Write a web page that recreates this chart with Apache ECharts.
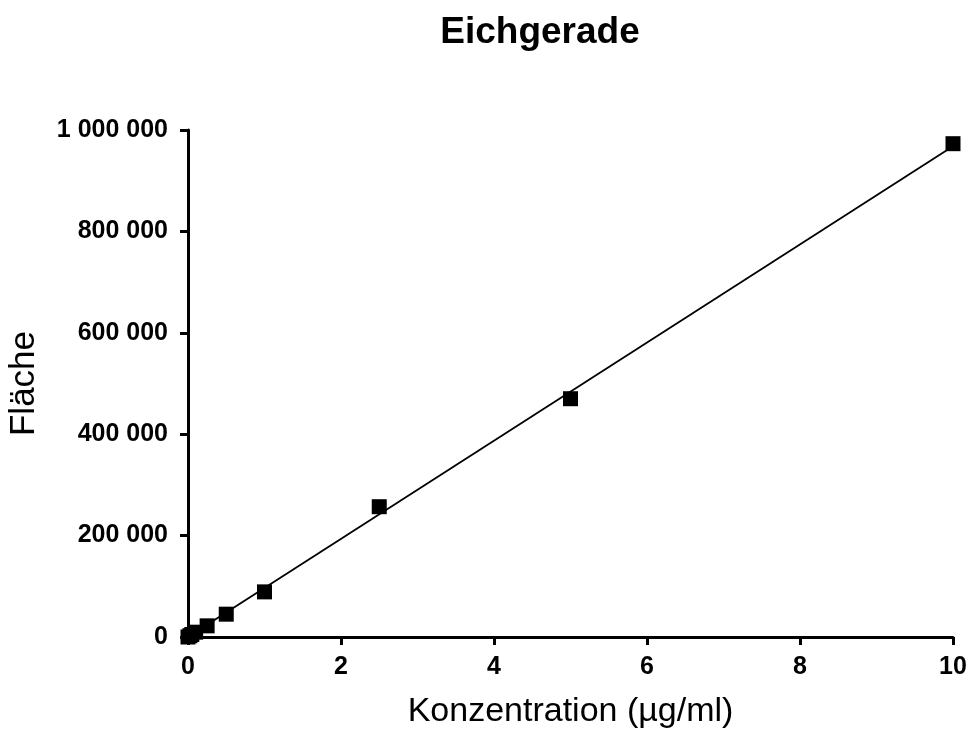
<!DOCTYPE html>
<html><head><meta charset="utf-8">
<script src="https://cdn.jsdelivr.net/npm/echarts@6/dist/echarts.min.js"></script>
<style>html,body{margin:0;padding:0;background:#fff}#c{width:969px;height:730px}</style>
</head><body><div id="c"></div>
<script>
const concentrations = [0, 0.025, 0.05, 0.1, 0.25, 0.5, 1, 2.5, 5, 10];
const areas = [0, 2500, 5000, 9500, 22000, 45000, 89000, 257000, 470000, 973000];
const fitX = [0, 10];
const fitY = [0, 968000];
const xTicks = [0, 2, 4, 6, 8, 10];
const yTicks = [0, 200000, 400000, 600000, 800000, 1000000];

const fmt = v => String(Math.round(v)).replace(/\B(?=(\d{3})+(?!\d))/g, ' ');
const font = 'Liberation Sans, Arial, sans-serif';
const chart = echarts.init(document.getElementById('c'));
chart.setOption({
  animation: false,
  backgroundColor: '#fff',
  title: {
    text: 'Eichgerade', left: 535, top: 9, textAlign: 'center',
    textStyle: {fontFamily: font, fontSize: 37, fontWeight: 'bold', color: '#000'}
  },
  grid: {left: 188, right: 16, top: 130, bottom: 93, containLabel: false, outerBoundsMode: 'none'},
  xAxis: {
    type: 'value', min: xTicks[0], max: xTicks[xTicks.length - 1], interval: 2,
    name: 'Konzentration (µg/ml)', nameLocation: 'middle', nameGap: 58,
    nameTextStyle: {fontFamily: font, fontSize: 34, color: '#000'},
    axisLine: {show: true, onZero: false, lineStyle: {color: '#000', width: 3}},
    axisTick: {show: true, length: 8, lineStyle: {color: '#000', width: 3}},
    axisLabel: {fontFamily: font, fontSize: 25, fontWeight: 'bold', color: '#000', margin: 18},
    splitLine: {show: false}
  },
  yAxis: {
    type: 'value', min: yTicks[0], max: yTicks[yTicks.length - 1], interval: 200000,
    name: 'Fläche', nameLocation: 'middle', nameGap: 146, nameRotate: 90,
    nameTextStyle: {fontFamily: font, fontSize: 35, color: '#000'},
    axisLine: {show: true, onZero: false, lineStyle: {color: '#000', width: 3}},
    axisTick: {show: true, length: 8, lineStyle: {color: '#000', width: 3}},
    axisLabel: {fontFamily: font, fontSize: 25, fontWeight: 'bold', color: '#000', margin: 20, formatter: fmt},
    splitLine: {show: false}
  },
  series: [
    {
      type: 'line', data: fitX.map((x, i) => [x, fitY[i]]),
      showSymbol: false, symbol: 'none', lineStyle: {color: '#000', width: 1.8}, clip: false, z: 2
    },
    {
      type: 'scatter', data: concentrations.map((x, i) => [x, areas[i]]),
      symbol: 'rect', symbolSize: 15, itemStyle: {color: '#000', opacity: 1}, clip: false, z: 3
    }
  ]
});
</script></body></html>
